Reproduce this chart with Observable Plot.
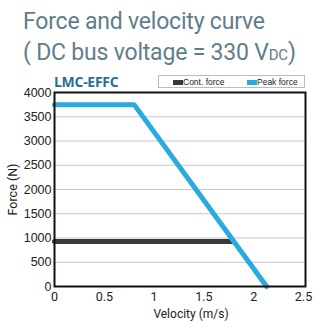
<!DOCTYPE html>
<html>
<head>
<meta charset="utf-8">
<script src="https://cdn.jsdelivr.net/npm/d3@7"></script>
<script src="https://cdn.jsdelivr.net/npm/@observablehq/plot@0.6"></script>
<style>
  html, body { margin: 0; padding: 0; background: #fff; }
  #wrap { position: relative; width: 324px; height: 328px; overflow: hidden; }
  .title { position: absolute; left: 23px; font-family: Roboto, "Open Sans", sans-serif; font-weight: 400; color: #5f7d8c; font-size: 23px; letter-spacing: -0.2px; white-space: nowrap; line-height: 1; }
  .model { position: absolute; left: 54px; top: 72px; font-family: "Open Sans", "Liberation Sans", sans-serif; font-weight: 700; font-size: 14px; letter-spacing: -0.3px; color: #2a6e96; }
  .legend { position: absolute; left: 158px; top: 75px; width: 145px; height: 11px; border: 1px solid #bbb; font-family: "Liberation Sans", Arial, sans-serif; font-size: 8.5px; color: #222; }
  .legend span.sw { position: absolute; top: 3.5px; width: 10px; height: 5px; }
  .legend span.lb { position: absolute; top: 0px; line-height: 12px; }
  #chart { position: absolute; left: 0; top: 70px; }
</style>
</head>
<body>
<div id="wrap">
  <div class="title" style="top:10px;">Force and velocity curve</div>
  <div class="title" style="top:41px;">( DC bus voltage = 330 V<span style="font-size:15px;">DC</span>)</div>
  <div class="model">LMC-EFFC</div>
  <div class="legend">
    <span class="sw" style="left:14px;background:#3a3a3a;"></span><span class="lb" style="left:24px;">Cont. force</span>
    <span class="sw" style="left:88px;background:#29abe2;"></span><span class="lb" style="left:98px;">Peak force</span>
  </div>
  <div id="chart"></div>
</div>
<script>
const velPeak = [0, 0.8, 2.13];
const forcePeak = [3750, 3750, 0];
const velCont = [0, 1.78];
const forceCont = [930, 930];
const xTicks = [0, 0.5, 1, 1.5, 2, 2.5];
const yTicks = [0, 500, 1000, 1500, 2000, 2500, 3000, 3500, 4000];
const gridTicks = [500, 1000, 1500, 2000, 2500, 3000, 3500];

const peak = velPeak.map((v, i) => ({v, f: forcePeak[i]}));
const cont = velCont.map((v, i) => ({v, f: forceCont[i]}));

const chart = Plot.plot({
  width: 324,
  height: 258,
  marginLeft: 54,
  marginRight: 19,
  marginTop: 22,
  marginBottom: 42,
  style: {fontFamily: "'Liberation Sans', Arial, sans-serif", fontSize: "12px", color: "#222", background: "transparent"},
  x: {domain: [0, 2.52], label: null},
  y: {domain: [0, 4000], label: null},
  marks: [
    Plot.ruleY(gridTicks, {stroke: "#c8c8c8", strokeWidth: 1}),
    Plot.axisY(yTicks, {tickSize: 0, tickPadding: 3, fontSize: 12.5, tickFormat: d => String(d), label: null}),
    Plot.axisY({ticks: [], tickSize: 0, label: "Force (N)", labelAnchor: "center", labelArrow: "none", labelOffset: 46, fontSize: 12.5, fontFamily: "Roboto, sans-serif"}),
    Plot.axisX(xTicks, {tickSize: 0, tickPadding: 6, fontSize: 12.5, fontFamily: "Roboto, sans-serif", tickFormat: d => String(d), label: null}),
    Plot.text(["Velocity (m/s)"], {frameAnchor: "bottom", dx: 11, dy: 31, fontSize: 12, fontFamily: "Roboto, sans-serif", fill: "#222"}),
    Plot.line(cont, {x: "v", y: "f", stroke: "#3a3a3a", strokeWidth: 5}),
    Plot.line(peak, {x: "v", y: "f", stroke: "#29abe2", strokeWidth: 5, strokeLinejoin: "miter"}),
    Plot.frame({stroke: "#111", strokeWidth: 2})
  ]
});
document.getElementById("chart").appendChild(chart);
</script>
</body>
</html>
